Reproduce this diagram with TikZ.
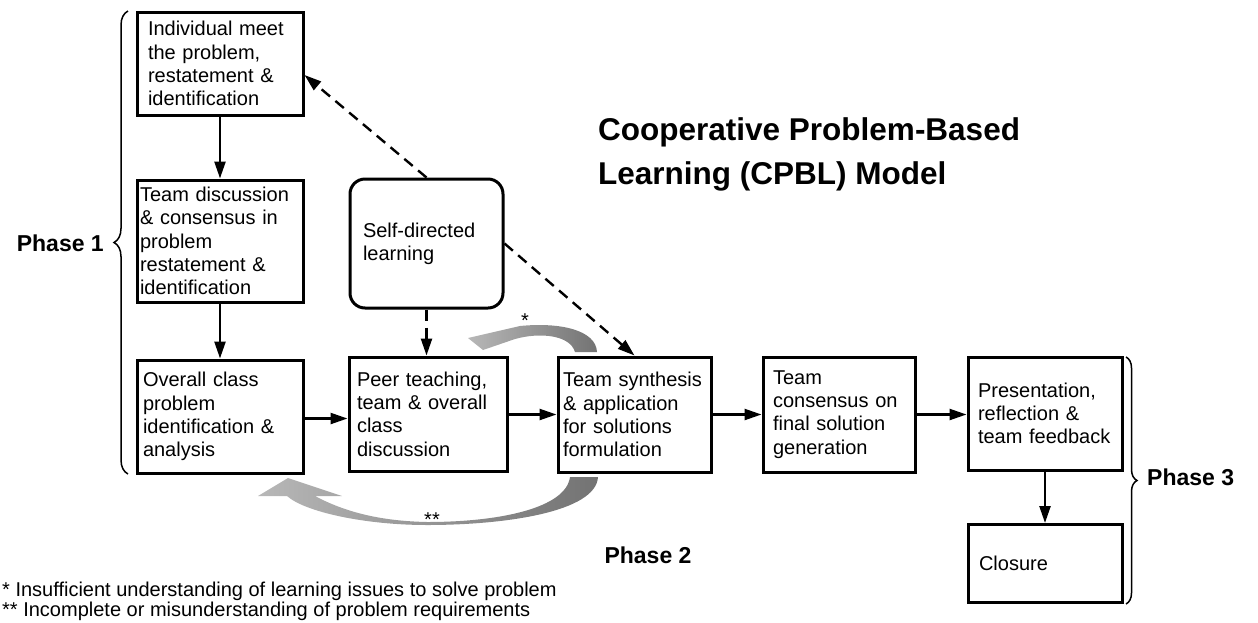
\documentclass[tikz,border=0pt]{standalone}
\usepackage{fontspec}
\setmainfont{Liberation Sans}
\usetikzlibrary{arrows.meta,decorations.pathreplacing,calc}
\begin{document}
\begin{tikzpicture}[x=1pt,y=-1pt,
  box/.style={draw, line width=3pt, align=left, inner ysep=0pt, font=\fontsize{20}{23.3}\selectfont},
  flow/.style={line width=2.4pt, -{Triangle[length=17pt,width=11pt]}},
  dflow/.style={flow, dash pattern=on 11pt off 7pt},
  grayarrow/.style={left color=black!28, right color=black!55},
  phase/.style={font=\fontsize{23}{27}\selectfont\bfseries, inner sep=0pt},
  titletext/.style={font=\fontsize{31.5}{44}\selectfont\bfseries, inner sep=0pt, anchor=base west},
  note/.style={font=\fontsize{20}{20}\selectfont, inner sep=0pt, anchor=base west},
  brc/.style={decorate, decoration={brace, amplitude=#1}, line width=1.5pt},
  brc/.default=9pt]
\useasboundingbox (0,0) rectangle (1258,622);

% boxes
\node[box, text width=144pt, inner xsep=11pt, minimum height=103pt] (A) at (220,63.5)
  {Individual meet\\the problem,\\restatement \&\\identification};
\node[box, text width=160pt, inner xsep=3pt, minimum height=122pt] (B) at (220,241)
  {Team discussion\\\& consensus in\\problem\\restatement \&\\identification};
\node[box, text width=154pt, inner xsep=6pt, minimum height=113pt] (C) at (220,416.5)
  {Overall class\\problem\\identification \&\\analysis};
\node[box, rounded corners=15pt, text width=127pt, inner xsep=13pt, minimum height=129pt] (S) at (426.5,243.5)
  {Self-directed\\learning};
\node[box, text width=142pt, inner xsep=8pt, minimum height=114pt] (P) at (428,414)
  {Peer teaching,\\team \& overall\\class\\discussion};
\node[box, text width=143pt, inner xsep=5pt, minimum height=115pt] (D) at (634.5,414.5)
  {Team synthesis\\\& application\\for solutions\\formulation};
\node[box, text width=132pt, inner xsep=10pt, minimum height=115pt] (E) at (839,414.5)
  {Team\\consensus on\\final solution\\generation};
\node[box, text width=134pt, inner xsep=10pt, minimum height=113pt] (F) at (1045,413.5)
  {Presentation,\\reflection \&\\team feedback};
\node[box, text width=132pt, inner xsep=11pt, minimum height=78pt] (G) at (1045,563.5)
  {Closure};

% solid connectors
\draw[flow] ([yshift=-2pt]C.east) -- ([yshift=-2pt]C.east -| P.west);
\draw[flow] (A) -- (B);
\draw[flow] (B) -- (C);
\draw[flow] (P.east |- D.west) -- (D.west);
\draw[flow] (D) -- (E);
\draw[flow] (E) -- (E.east -| F.west);
\draw[flow] (F) -- (G);

% dashed connectors
\draw[dflow] (S.north) -- ([yshift=-11.5pt]A.east);
\draw[dflow] (S.east) -- (D.north);
\draw[dflow] (S.south) -- (S.south |- P.north);

% gray feedback arrows
\shade[grayarrow] (597,352) .. controls (596,330) and (560,322) .. (520,326)
  -- (468,338) -- (483,350) -- (515,339)
  .. controls (540,332) and (570,335) .. (575,352) -- cycle;
\node[font=\fontsize{20}{20}\selectfont, inner sep=0pt] (star1) at (525,321) {*};

\shade[grayarrow] (598,477) .. controls (596,512) and (505,525) .. (427,525)
  .. controls (365,525) and (305,512) .. (287,496)
  -- (258,496) -- (288,478) -- (342,496) -- (315,496)
  .. controls (345,512) and (380,521) .. (427,522)
  .. controls (500,522) and (566,508) .. (570,477) -- cycle;
\node[font=\fontsize{20}{20}\selectfont, inner sep=0pt] (star2) at (432,520) {**};

% braces and phases
\draw[brc=14pt] (128,474) -- (128,11);
\coordinate (b1) at (104,243);
\node[phase, anchor=east] (ph1) at (b1) {Phase 1};
\draw[brc=11pt] (1126,357) -- (1126,604);
\coordinate (b3) at (1147,477);
\node[phase, anchor=west] (ph3) at (b3) {Phase 3};
\node[phase] (ph2) at (648,555) {Phase 2};

% title
\node[titletext] (t1) at (598,140) {Cooperative Problem-Based};
\node[titletext] (t2) at (598,184) {Learning (CPBL) Model};

% footnotes
\node[note] (n1) at (2,596) {* Insufficient understanding of learning issues to solve problem};
\node[note] (n2) at (2,616) {** Incomplete or misunderstanding of problem requirements};
\end{tikzpicture}
\end{document}
